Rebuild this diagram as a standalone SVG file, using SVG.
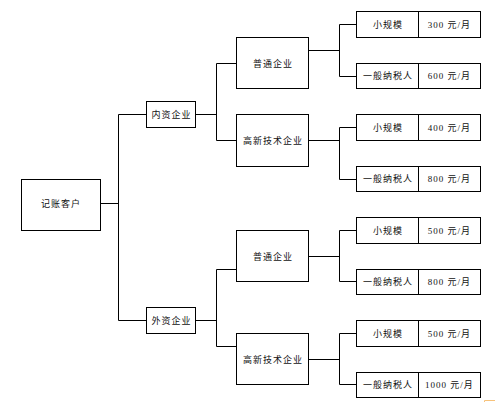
<svg xmlns="http://www.w3.org/2000/svg" width="495" height="402" viewBox="0 0 495 402">
<style>
.b{fill:#fff;stroke:#000;stroke-width:1}
.c{fill:none;stroke:#000;stroke-width:1}
.t{font-family:"Liberation Serif","Noto Sans CJK SC",serif;font-size:9px;fill:#111;text-anchor:middle;dominant-baseline:central;letter-spacing:1px}
</style>
<rect width="495" height="402" fill="#fff"/>
<g id="connectors" class="c">
<path d="M100.5 203.5H118.5M118.5 114.5V320.5M118.5 114.5H146.5M118.5 320.5H146.5"/>
<path d="M195.5 114.5H216.5M216.5 63.5V140.5M216.5 63.5H236.5M216.5 140.5H236.5"/>
<path d="M195.5 320.5H216.5M216.5 269.5V346.5M216.5 269.5H236.5M216.5 346.5H236.5"/>
<path d="M308.5 50.5H339.5M339.5 24.5V76.5M339.5 24.5H356.5M339.5 76.5H356.5"/>
<path d="M308.5 140.5H339.5M339.5 127.5V179.5M339.5 127.5H356.5M339.5 179.5H356.5"/>
<path d="M308.5 256.5H339.5M339.5 230.5V281.5M339.5 230.5H356.5M339.5 281.5H356.5"/>
<path d="M308.5 359.5H339.5M339.5 333.5V384.5M339.5 333.5H356.5M339.5 384.5H356.5"/>
</g>
<g id="root"><rect class="b" x="21.5" y="179.5" width="79" height="51"/><text class="t" x="61" y="204">记账客户</text></g>
<g id="neizi"><rect class="b" x="146.5" y="101.5" width="49" height="26"/><text class="t" x="171.5" y="114.5">内资企业</text></g>
<g id="waizi"><rect class="b" x="146.5" y="307.5" width="49" height="26"/><text class="t" x="171.5" y="320.5">外资企业</text></g>
<g id="putong1"><rect class="b" x="236.5" y="37.5" width="72" height="51"/><text class="t" x="273" y="63.5">普通企业</text></g>
<g id="gaoxin1"><rect class="b" x="236.5" y="114.5" width="72" height="52"/><text class="t" x="273" y="140.5">高新技术企业</text></g>
<g id="putong2"><rect class="b" x="236.5" y="230.5" width="72" height="51"/><text class="t" x="273" y="256.5">普通企业</text></g>
<g id="gaoxin2"><rect class="b" x="236.5" y="333.5" width="72" height="51"/><text class="t" x="273" y="359.5">高新技术企业</text></g>
<g id="leaf1"><rect class="b" x="356.5" y="11.5" width="124" height="26"/><path class="c" d="M418.5 11.5V37.5"/><text class="t" x="388" y="24.5">小规模</text><text class="t" x="449.5" y="24.5">300 元/月</text></g>
<g id="leaf2"><rect class="b" x="356.5" y="63.5" width="124" height="25"/><path class="c" d="M418.5 63.5V88.5"/><text class="t" x="388" y="76">一般纳税人</text><text class="t" x="449.5" y="76">600 元/月</text></g>
<g id="leaf3"><rect class="b" x="356.5" y="114.5" width="124" height="26"/><path class="c" d="M418.5 114.5V140.5"/><text class="t" x="388" y="127.5">小规模</text><text class="t" x="449.5" y="127.5">400 元/月</text></g>
<g id="leaf4"><rect class="b" x="356.5" y="166.5" width="124" height="25"/><path class="c" d="M418.5 166.5V191.5"/><text class="t" x="388" y="179">一般纳税人</text><text class="t" x="449.5" y="179">800 元/月</text></g>
<g id="leaf5"><rect class="b" x="356.5" y="217.5" width="124" height="26"/><path class="c" d="M418.5 217.5V243.5"/><text class="t" x="388" y="230.5">小规模</text><text class="t" x="449.5" y="230.5">500 元/月</text></g>
<g id="leaf6"><rect class="b" x="356.5" y="269.5" width="124" height="25"/><path class="c" d="M418.5 269.5V294.5"/><text class="t" x="388" y="282">一般纳税人</text><text class="t" x="449.5" y="282">800 元/月</text></g>
<g id="leaf7"><rect class="b" x="356.5" y="320.5" width="124" height="26"/><path class="c" d="M418.5 320.5V346.5"/><text class="t" x="388" y="333.5">小规模</text><text class="t" x="449.5" y="333.5">500 元/月</text></g>
<g id="leaf8"><rect class="b" x="356.5" y="372.5" width="124" height="25"/><path class="c" d="M418.5 372.5V397.5"/><text class="t" x="388" y="385">一般纳税人</text><text class="t" x="449.5" y="385">1000 元/月</text></g>
<path d="M484.5 402V400.5H495" fill="none" stroke="#f7c27a" stroke-width="1"/>
</svg>
